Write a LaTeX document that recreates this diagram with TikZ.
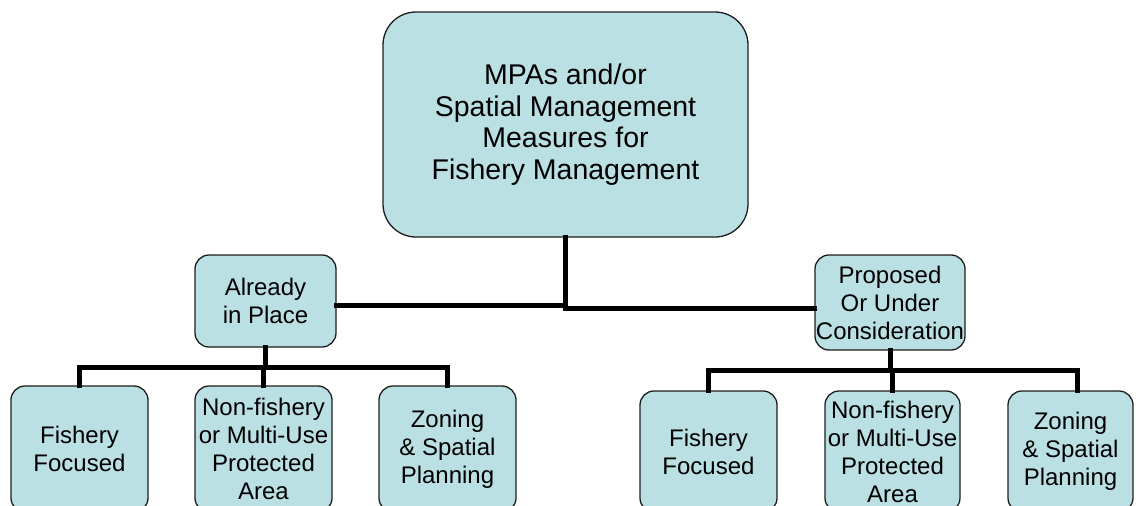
\documentclass[tikz,border=0pt]{standalone}
\usepackage{fontspec}
\setmainfont{Liberation Sans}
\definecolor{boxfill}{RGB}{187,224,227}
\definecolor{boxline}{RGB}{30,30,30}
\begin{document}
\begin{tikzpicture}[x=1pt,y=-1pt,
  bx/.style={draw=boxline, line width=1.3pt, fill=boxfill, rounded corners=14pt,
    inner sep=0pt, align=center, font=\fontsize{24}{28}\selectfont},
  conn/.style={line width=5pt, line cap=rect, line join=miter}]
\useasboundingbox (0,0) rectangle (1138,506);
\clip (0,0) rectangle (1138,506);
\fill[white] (0,0) rectangle (1138,506);
\node[bx, minimum width=365pt, minimum height=225pt, rounded corners=33pt,
  font=\fontsize{28.5}{31.5}\selectfont] (top) at (565.5,124.5)
  {MPAs and/or\\Spatial Management\\Measures for\\Fishery Management};
\node[bx, minimum width=141pt, minimum height=92pt] (already) at (265.5,301)
  {Already\\in Place};
\node[bx, minimum width=150pt, minimum height=95pt] (proposed) at (890,302.5)
  {Proposed\\Or Under\\Consideration};
\node[bx, minimum width=137pt, minimum height=126pt] (f1) at (79.5,449)
  {Fishery\\Focused};
\node[bx, minimum width=137pt, minimum height=126pt] (n1) at (263.5,449)
  {Non-fishery\\or Multi-Use\\Protected\\Area};
\node[bx, minimum width=137pt, minimum height=126pt] (z1) at (447.5,449)
  {Zoning\\\& Spatial\\Planning};
\node[bx, minimum width=137pt, minimum height=121pt] (f2) at (708.5,451.5)
  {Fishery\\Focused};
\node[bx, minimum width=135pt, minimum height=121pt] (n2) at (892.5,451.5)
  {Non-fishery\\or Multi-Use\\Protected\\Area};
\node[bx, minimum width=125pt, minimum height=121pt] (z2) at (1070.5,451.5)
  {Zoning\\\& Spatial\\Planning};
\draw[conn] (top.south) -- (top.south |- 0,308);
\draw[conn] (already.east |- 0,305) -- (top.south |- 0,305);
\draw[conn] (top.south |- 0,308) -- (proposed.west |- 0,308);
\draw[conn] (already.south) -- (already.south |- 0,367);
\draw[conn] (f1.north) |- (z1.north |- 0,367) -- (z1.north);
\draw[conn] (n1.north) -- (n1.north |- 0,367);
\draw[conn] (proposed.south) -- (proposed.south |- 0,370);
\draw[conn] ([xshift=-0.5pt]f2.north) |- ([xshift=6.5pt]z2.north |- 0,370) -- ([xshift=6.5pt]z2.north);
\draw[conn] (n2.north) -- (n2.north |- 0,370);
\end{tikzpicture}
\end{document}
